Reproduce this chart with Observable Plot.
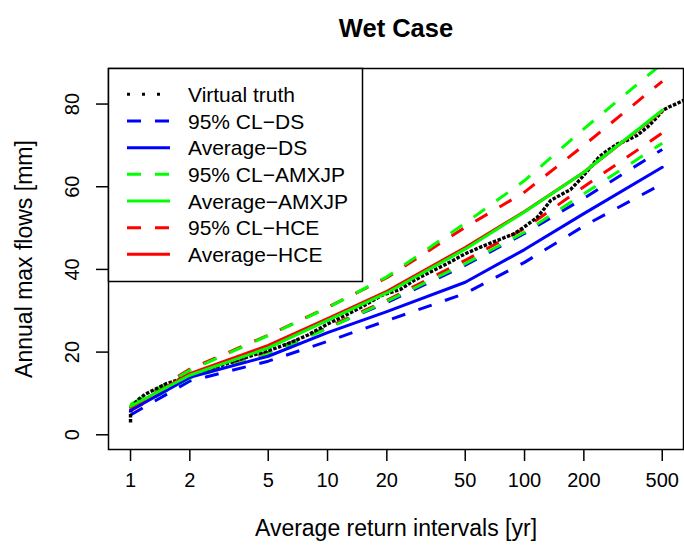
<!DOCTYPE html>
<html>
<head>
<meta charset="utf-8">
<script src="https://cdn.jsdelivr.net/npm/d3@7"></script>
<script src="https://cdn.jsdelivr.net/npm/@observablehq/plot@0.6"></script>
<style>
  html, body { margin: 0; padding: 0; background: white; }
</style>
</head>
<body>
<div id="chart"></div>
<script>
// ---- data ----
const returnPeriods = [1, 2, 5, 10, 20, 50, 100, 200, 500];
const dsLower  = [4.8, 13.0, 17.8, 22.6, 27.6, 34.2, 41.7, 50.5, 60.7];
const dsAvg    = [5.9, 13.9, 19.0, 24.7, 29.8, 36.9, 44.8, 53.5, 64.7];
const dsUpper  = [6.2, 14.2, 20.0, 25.9, 32.0, 41.0, 48.7, 57.2, 69.0];
const amLower  = [6.0, 13.7, 19.5, 25.7, 32.3, 41.4, 49.0, 58.3, 70.5];
const amAvg    = [6.9, 14.4, 21.0, 27.7, 34.3, 44.9, 53.9, 63.5, 78.5];
const amUpper  = [7.3, 15.6, 24.0, 30.7, 38.2, 51.2, 61.5, 74.0, 89.8];
const hceLower = [5.8, 14.0, 19.8, 26.0, 32.5, 42.2, 49.9, 60.0, 73.0];
const hceAvg   = [6.6, 14.8, 21.6, 28.1, 34.7, 45.3, 54.0, 63.5, 78.3];
const hceUpper = [7.0, 15.9, 24.1, 30.8, 38.0, 50.2, 58.7, 70.0, 85.5];

const truthT = [1.0, 1.0, 1.02, 1.044, 1.107, 1.196, 1.293, 1.398, 1.511, 1.70,
                1.87, 2.2, 2.6, 3.0, 3.6, 4.5, 5.5, 6.5, 8, 10,
                12, 15, 19, 23.5, 27.4, 33, 40.5, 50, 59.8, 72.6,
                88.3, 99.3, 116, 125, 136, 152, 171, 192, 216, 239,
                264, 297, 331, 372, 420, 464, 505, 541, 573, 644];
const truthQ = [3.0, 5.5, 6.6, 7.5, 8.7, 9.9, 10.7, 11.5, 12.3, 13.1,
                13.9, 14.8, 16.0, 17.0, 18.3, 19.7, 21.0, 22.3, 24.2, 26.8,
                28.6, 31.0, 33.8, 35.2, 37.3, 39.3, 41.4, 43.8, 45.4, 47.0,
                48.6, 50.2, 52.6, 54.5, 56.7, 58.0, 59.3, 61.8, 64.7, 67.2,
                68.8, 70.4, 71.2, 72.4, 74.4, 76.5, 78.5, 79.3, 79.8, 80.9];

const xTicks = [1, 2, 5, 10, 20, 50, 100, 200, 500];
const yTicks = [0, 20, 40, 60, 80];
const legendLabels = ["Virtual truth", "95% CL\u2212DS", "Average\u2212DS", "95% CL\u2212AMXJP",
                      "Average\u2212AMXJP", "95% CL\u2212HCE", "Average\u2212HCE"];
const titleText = "Wet Case";
const xLabel = "Average return intervals [yr]";
const yLabel = "Annual max flows [mm]";

// ---- styles ----
const BLUE = "#0000FF", GREEN = "#00FF00", RED = "#FF0000", BLACK = "#000000";
const DASH = "14,14";
const FONT = "'Liberation Sans', Arial, Helvetica, sans-serif";

const W = 684, H = 550;
const mL = 108, mR = 1, mT = 68, mB = 101;

const toRows = (arr) => returnPeriods.map((t, i) => ({t, v: arr[i]}));
const truthRows = truthT.map((t, i) => ({t, v: truthQ[i]}));

const lineOf = (arr, color, dashed) => Plot.line(toRows(arr), {
  x: "t", y: "v", stroke: color, strokeWidth: 3, clip: true,
  strokeDasharray: dashed ? DASH : null,
  strokeLinecap: dashed ? "butt" : "round", strokeLinejoin: "round"
});

const plot = Plot.plot({
  width: W, height: H,
  marginLeft: mL, marginRight: mR, marginTop: mT, marginBottom: mB,
  style: {fontFamily: FONT, fontSize: "20px", background: "white", color: "black", overflow: "visible"},
  x: {type: "log", domain: [0.773, 641]},
  y: {domain: [-3.56, 88.6]},
  marks: [
    // dashed confidence limits
    lineOf(dsLower, BLUE, true), lineOf(dsUpper, BLUE, true),
    lineOf(hceLower, RED, true), lineOf(hceUpper, RED, true),
    lineOf(amLower, GREEN, true), lineOf(amUpper, GREEN, true),
    // virtual truth
    Plot.line(truthRows, {x: "t", y: "v", stroke: BLACK, strokeWidth: 3.4,
      strokeDasharray: "3.5,1.5", strokeLinecap: "butt", clip: true}),
    // averages
    lineOf(dsAvg, BLUE, false),
    lineOf(hceAvg, RED, false),
    lineOf(amAvg, GREEN, false),
    Plot.frame({stroke: "black", strokeWidth: 1.5}),
    // axes ticks
    Plot.axisX({ticks: xTicks, tickSize: 12, tickFormat: () => "", label: null, strokeWidth: 1.5}),
    Plot.axisY({ticks: yTicks, tickSize: 12, tickFormat: () => "", label: null, strokeWidth: 1.5}),
    // tick labels
    Plot.text(xTicks, {x: d => d, text: d => String(d), frameAnchor: "bottom", dy: 37, fontSize: 20, textAnchor: "middle"}),
    Plot.text(yTicks, {y: d => d, text: d => String(d), frameAnchor: "left", dx: -36, rotate: -90, fontSize: 20, textAnchor: "middle"}),
    // axis labels and title
    Plot.text([xLabel], {text: d => d, frameAnchor: "bottom", dy: 86, fontSize: 23, textAnchor: "middle"}),
    Plot.text([yLabel], {text: d => d, frameAnchor: "left", dx: -84, rotate: -90, fontSize: 23, textAnchor: "middle"}),
    Plot.text([titleText], {text: d => d, frameAnchor: "top", dy: -50, fontSize: 25.5, fontWeight: "bold", textAnchor: "middle"})
  ]
});

// ---- legend (inside plot area, top-left) ----
const svg = d3.select(plot);
const lg = svg.append("g").attr("font-family", FONT).attr("font-size", 21).attr("text-anchor", "start");
lg.append("rect").attr("x", mL + 0.5).attr("y", mT + 0.5).attr("width", 254).attr("height", 213)
  .attr("fill", "white").attr("stroke", "black").attr("stroke-width", 1.5);
const legendStyles = [
  {c: BLACK, d: "3,12"},
  {c: BLUE, d: DASH}, {c: BLUE, d: null},
  {c: GREEN, d: DASH}, {c: GREEN, d: null},
  {c: RED, d: DASH}, {c: RED, d: null}
];
legendLabels.forEach((lab, i) => {
  const y = mT + 26.3 + i * 26.67;
  const s = legendStyles[i];
  const ln = lg.append("line").attr("x1", 127).attr("x2", 170).attr("y1", y).attr("y2", y)
    .attr("stroke", s.c).attr("stroke-width", 3);
  if (s.d) ln.attr("stroke-dasharray", s.d).attr("stroke-linecap", "butt");
  lg.append("text").attr("x", 188).attr("y", y).attr("dy", "0.36em")
    .attr("text-anchor", "start").attr("fill", "black").text(lab);
});

document.getElementById("chart").appendChild(plot);
</script>
</body>
</html>
